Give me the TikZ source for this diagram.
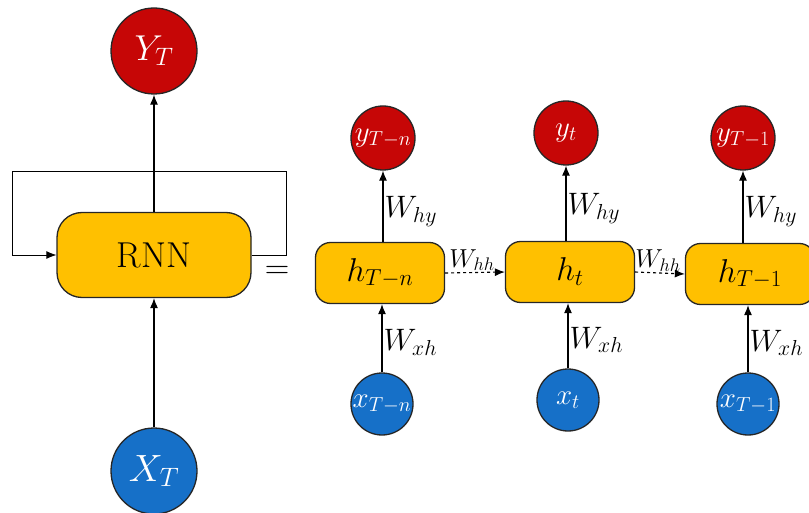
\RequirePackage{fix-cm}
\documentclass[tikz,border=0pt]{standalone}
\usepackage{amsmath}
\usetikzlibrary{arrows.meta, positioning, calc}

\definecolor{ballred}{RGB}{198,6,6}
\definecolor{ballblue}{RGB}{22,112,200}
\definecolor{cellyellow}{RGB}{255,192,0}

\begin{document}
\begin{tikzpicture}[x=1pt, y=-1pt,
	  ball/.style={circle, draw=black!85, line width=1.3pt, inner sep=0pt, text=white},
	  outball/.style={ball, fill=ballred},
	  inball/.style={ball, fill=ballblue},
	  cell/.style={draw=black!85, line width=1.3pt, fill=cellyellow, inner sep=0pt},
	  flow/.style={-{Latex[length=10pt,width=8pt]}, line width=1.1pt},
	  weight/.style={font=\fontsize{31}{31}\selectfont, inner sep=1pt}]

		\useasboundingbox (0,0) rectangle (809,513);

		% folded network
		\node[cell, rounded corners=25pt, minimum width=194pt, minimum height=85pt,
		      font=\fontsize{36}{36}\selectfont] (rnn) at (154,255) {RNN};
		\node[outball, minimum size=86pt, font=\fontsize{36}{36}\selectfont] (Y) at (154,51) {$Y_T$};
		\node[inball, minimum size=86pt, font=\fontsize{38}{38}\selectfont] (X) at (154,471) {$X_T$};

		\draw[flow] (rnn.north) -- (Y.south);
		\draw[flow] (X.north) -- (rnn.south);

		\coordinate (loopR) at (286,171);
		\coordinate (loopL) at (12,171);
		\draw[flow, line width=0.8pt] (rnn.east) -| (loopR) -- (loopL) |- (rnn.west);

		\node[font=\fontsize{34}{34}\selectfont] (eq) at (277,272) {$=$};

		% unfolded network
		\tikzset{hcell/.style={cell, rounded corners=15pt, minimum width=129pt, minimum height=61pt,
		                       font=\fontsize{33}{33}\selectfont},
		         sball/.style={minimum size=64pt, font=\fontsize{29}{29}\selectfont}}

		\node[hcell] (h1) at (380,273) {$h_{T-n}$};
		\node[hcell] (h2) at (570,272) {$h_t$};
		\node[hcell] (h3) at (750,274) {$h_{T-1}$};

		\node[outball, sball] (y1) at (383,138) {$y_{T-n}$};
		\node[outball, sball] (y2) at (566,133) {$y_t$};
		\node[outball, sball] (y3) at (743,138) {$y_{T-1}$};

		\node[inball, sball, minimum size=62pt] (x1) at (382,404) {$x_{T-n}$};
		\node[inball, sball, minimum size=62pt] (x2) at (568,400) {$x_t$};
		\node[inball, sball, minimum size=62pt] (x3) at (748,404) {$x_{T-1}$};

		\draw[flow] (h1.north -| y1) -- node[weight, right, yshift=-5pt] {$W_{hy}$} (y1.south);
		\draw[flow] (h2.north -| y2) -- node[weight, right, yshift=-5pt] {$W_{hy}$} (y2.south);
		\draw[flow] (h3.north -| y3) -- node[weight, right, yshift=-5pt] {$W_{hy}$} (y3.south);

		\draw[flow] (x1.north) -- node[weight, right, yshift=-4pt] {$W_{xh}$} (x1.north |- h1.south);
		\draw[flow] (x2.north) -- node[weight, right, yshift=-4pt] {$W_{xh}$} (x2.north |- h2.south);
		\draw[flow] (x3.north) -- node[weight, right, yshift=-4pt] {$W_{xh}$} (x3.north |- h3.south);

		\draw[flow, dashed] (h1.east) -- node[weight, above, xshift=-3pt, font=\fontsize{26}{26}\selectfont] {$W_{hh}$} (h2.west);
		\draw[flow, dashed] (h2.east) -- node[weight, above, xshift=-2pt, font=\fontsize{26}{26}\selectfont] {$W_{hh}$} (h3.west);

\end{tikzpicture}
\end{document}
